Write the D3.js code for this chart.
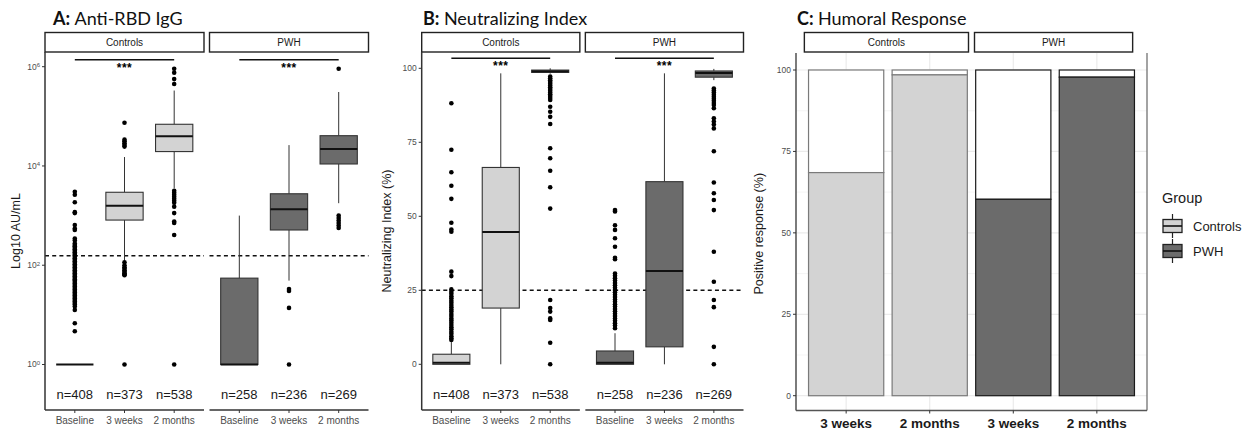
<!DOCTYPE html>
<html>
<head>
<meta charset="utf-8">
<script src="https://cdn.jsdelivr.net/npm/d3@7"></script>
<style>
  html, body { margin: 0; padding: 0; background: #fff; }
  svg { display: block; font-family: "Liberation Sans", Arial, sans-serif; }
</style>
</head>
<body>
<svg id="chart" width="1250" height="432"></svg>
<script>
// ---------------- DATA ----------------
const timepoints = ["Baseline", "3 weeks", "2 months"];
const groups = ["Controls", "PWH"];
const nControls = [408, 373, 538];
const nPWH = [258, 236, 269];

// Anti-RBD IgG, values are log10(AU/mL): [whiskerLow, q1, median, q3, whiskerHigh]
const iggBoxControls = [
  [0, 0, 0, 0, 0],
  [2.09, 2.91, 3.2, 3.47, 4.18],
  [3.55, 4.29, 4.6, 4.84, 5.52]
];
const iggBoxPWH = [
  [0, 0, 0, 1.74, 3.0],
  [1.69, 2.71, 3.13, 3.44, 4.42],
  [3.25, 4.04, 4.34, 4.61, 5.49]
];
const iggOutControls = [
  [3.48, 3.42, 3.27, 3.07, 3.05, 2.81, 2.74, 2.71, 2.54, 2.5, 2.44, 2.41, 2.38, 2.35, 2.32, 2.29,
   2.26, 2.23, 2.2, 2.17, 2.14, 2.11, 2.08, 2.05, 2.02, 1.99, 1.96, 1.93, 1.9, 1.87, 1.84, 1.81,
   1.78, 1.75, 1.72, 1.69, 1.66, 1.63, 1.6, 1.57, 1.54, 1.51, 1.48, 1.45, 1.42, 1.39, 1.36, 1.33,
   1.3, 1.27, 1.24, 1.21, 1.17, 1.1, 0.83, 0.67],
  [4.87, 4.53, 4.5, 4.46, 4.42, 4.39, 2.06, 2.0, 1.96, 1.93, 1.9, 1.87, 1.84, 1.82, 1.8, 0],
  [5.96, 5.88, 5.75, 5.65, 3.5, 3.46, 3.42, 3.38, 3.34, 3.3, 3.26, 3.18, 3.05, 2.88, 2.85, 2.61, 0]
];
const iggOutPWH = [
  [],
  [1.52, 1.48, 1.14, 0],
  [5.96, 3.0, 2.95, 2.9, 2.85, 2.8, 2.75]
];
const iggCutoff = 2.19;       // log10 AU/mL
const iggSigLevel = 6.14;     // log10 position of significance bar
const iggNLabelLevel = -0.61; // log10 position of n= labels
const iggTicks = [0, 2, 4, 6];

// Neutralizing index (%): [whiskerLow, q1, median, q3, whiskerHigh]
const nabBoxControls = [
  [0, 0, 0.5, 3.4, 7.5],
  [0, 19, 44.7, 66.5, 98.3],
  [98.2, 98.6, 99.0, 99.4, 100]
];
const nabBoxPWH = [
  [0, 0, 0.5, 4.5, 10.5],
  [0, 5.9, 31.5, 61.7, 98.3],
  [96, 97, 98.4, 99.1, 99.8]
];
const nabOutControls = [
  [88.2, 72.5, 64.9, 60.3, 55.9, 47.8, 45.5, 44.8, 31.3, 29.8, 25.3, 24.5, 23.8, 23, 22.3, 21.5,
   20.8, 20, 19.3, 18.5, 17.8, 17, 16.3, 15.5, 14.8, 14, 13.3, 12.5, 11.8, 11, 10.3, 9.5, 8.8, 8.2],
  [],
  [97.2, 96.6, 96, 95.4, 94.8, 94.2, 93.6, 93, 92.4, 91.8, 91.2, 90.6, 90, 89.3, 87, 85.3, 83.6,
   81.2, 73, 69.6, 65.4, 59.8, 52.6, 21.7, 19, 17.8, 15.5, 15, 7.3, 0]
];
const nabOutPWH = [
  [52.1, 51.6, 47, 45.4, 42.6, 39.7, 36, 35.5, 30.7, 29.9, 29.1, 28.3, 27.5, 26.7, 25.9, 25.1,
   24.3, 23.5, 22.7, 21.9, 21.1, 20.3, 19.5, 18.7, 17.9, 17.1, 16.3, 15.5, 14.7, 13.9, 13.1, 12.2],
  [],
  [93.2, 92.5, 91.8, 91.1, 90.4, 89.7, 89, 88.3, 87.6, 86.5, 83.1, 82, 81, 79.7, 72, 61.4, 57.8,
   55.5, 52.1, 38, 27.9, 21.7, 19.3, 5.9, 0]
];
const nabCutoff = 25;
const nabSigLevel = 103.4;
const nabNLabelLevel = -10;
const nabTicks = [0, 25, 50, 75, 100];

// Humoral response (% positive)
const respTimepoints = ["3 weeks", "2 months"];
const respControls = [68.5, 98.5];
const respPWH = [60.3, 97.8];
const respTicks = [0, 25, 50, 75, 100];
const respMinorTicks = [12.5, 37.5, 62.5, 87.5];

// ---------------- STYLE ----------------
const fillColor = { Controls: "#d3d3d3", PWH: "#6b6b6b" };
const axisColor = "#333333";
const tickText = "#4d4d4d";
const titleFont = "Lato, 'Open Sans', sans-serif";

const svg = d3.select("#chart");

function panelTitle(x, letter, rest) {
  const t = svg.append("text").attr("x", x).attr("y", 25)
    .attr("font-family", titleFont).attr("font-size", 18).attr("fill", "#111");
  t.append("tspan").attr("font-weight", "bold").text(letter);
  t.append("tspan").text(rest);
}

function strip(x0, x1, label) {
  svg.append("rect").attr("x", x0).attr("y", 32.5).attr("width", x1 - x0).attr("height", 19.5)
    .attr("fill", "#fff").attr("stroke", "#222").attr("stroke-width", 1.4);
  svg.append("text").attr("x", (x0 + x1) / 2).attr("y", 45.5).attr("text-anchor", "middle")
    .attr("font-size", 10).attr("fill", "#1a1a1a").text(label);
}

function yTitle(x, y, label) {
  svg.append("text").attr("transform", `translate(${x},${y}) rotate(-90)`)
    .attr("text-anchor", "middle").attr("font-size", 12.5).attr("fill", "#1a1a1a").text(label);
}

// Box-plot panel (faceted by group)
function boxPanel(cfg) {
  const { left, right, top, bottom, gap, y, toY, boxes, outliers, counts, ticks, tickFmt,
          cutoff, sigLevel, nLevel, labelX, title, letter, titleX, yLabel } = cfg;
  panelTitle(titleX, letter, title);
  const facetW = (right - left - gap) / 2;
  const yTop = top, yBot = bottom;

  groups.forEach((g, gi) => {
    const fx0 = left + gi * (facetW + gap), fx1 = fx0 + facetW;
    const x = d3.scalePoint().domain(timepoints).range([fx0, fx1]).padding(0.6);
    const bw = x.step() * 0.75;
    strip(fx0, fx1, g);

    const layer = svg.append("g");
    // cutoff dashed line
    layer.append("line").attr("x1", fx0).attr("x2", fx1)
      .attr("y1", y(toY(cutoff))).attr("y2", y(toY(cutoff)))
      .attr("stroke", "#111").attr("stroke-width", 1.5).attr("stroke-dasharray", "4,3.2");

    timepoints.forEach((tp, ti) => {
      const [lo, q1, med, q3, hi] = boxes[gi][ti];
      const cx = x(tp);
      // whiskers
      layer.append("line").attr("x1", cx).attr("x2", cx)
        .attr("y1", y(toY(q3))).attr("y2", y(toY(hi))).attr("stroke", axisColor).attr("stroke-width", 1);
      layer.append("line").attr("x1", cx).attr("x2", cx)
        .attr("y1", y(toY(q1))).attr("y2", y(toY(lo))).attr("stroke", axisColor).attr("stroke-width", 1);
      // box
      layer.append("rect").attr("x", cx - bw / 2).attr("width", bw)
        .attr("y", y(toY(q3))).attr("height", Math.max(0, y(toY(q1)) - y(toY(q3))))
        .attr("fill", fillColor[g]).attr("stroke", axisColor).attr("stroke-width", 1.1);
      // median
      layer.append("line").attr("x1", cx - bw / 2).attr("x2", cx + bw / 2)
        .attr("y1", y(toY(med))).attr("y2", y(toY(med))).attr("stroke", "#111").attr("stroke-width", 2);
      // outliers
      layer.selectAll(null).data(outliers[gi][ti]).enter().append("circle")
        .attr("cx", cx).attr("cy", d => y(toY(d))).attr("r", 2.3).attr("fill", "#000");
      // n label
      layer.append("text").attr("x", cx).attr("y", y(toY(nLevel))).attr("dy", "0.36em")
        .attr("text-anchor", "middle").attr("font-size", 13).attr("fill", "#1a1a1a")
        .text("n=" + counts[gi][ti]);
      // x tick + label
      layer.append("line").attr("x1", cx).attr("x2", cx).attr("y1", yBot).attr("y2", yBot + 3)
        .attr("stroke", axisColor).attr("stroke-width", 1);
      layer.append("text").attr("x", cx).attr("y", 424).attr("text-anchor", "middle")
        .attr("font-size", 10).attr("fill", tickText).text(tp);
    });

    // significance bar
    const sy = y(toY(sigLevel));
    layer.append("line").attr("x1", x(timepoints[0])).attr("x2", x(timepoints[2]))
      .attr("y1", sy).attr("y2", sy).attr("stroke", "#111").attr("stroke-width", 1.5);
    layer.append("text").attr("x", x(timepoints[1])).attr("y", sy + 12)
      .attr("text-anchor", "middle").attr("font-size", 12).attr("font-weight", "bold")
      .attr("letter-spacing", 0.5).attr("fill", "#000").text("***");

    // bottom axis line per facet
    svg.append("line").attr("x1", fx0).attr("x2", fx1).attr("y1", yBot).attr("y2", yBot)
      .attr("stroke", axisColor).attr("stroke-width", 1.5);
  });

  // left axis
  svg.append("line").attr("x1", left).attr("x2", left).attr("y1", yTop).attr("y2", yBot)
    .attr("stroke", axisColor).attr("stroke-width", 1.5);
  ticks.forEach(t => {
    const ty = y(toY(t));
    svg.append("line").attr("x1", left - 3).attr("x2", left).attr("y1", ty).attr("y2", ty)
      .attr("stroke", axisColor).attr("stroke-width", 1);
    tickFmt(svg.append("text").attr("x", left - 5).attr("y", ty).attr("dy", "0.35em")
      .attr("text-anchor", "end").attr("font-size", 8.5).attr("fill", tickText), t);
  });
  yTitle(labelX, (yTop + yBot) / 2, yLabel);
}

// ---------- Panel A ----------
const yIgG = d3.scaleLog().domain([1, 1e6]).range([364.5, 66.7]);
boxPanel({
  left: 45, right: 368.5, top: 52, bottom: 410, gap: 5.5,
  y: yIgG, toY: v => Math.pow(10, v),
  boxes: [iggBoxControls, iggBoxPWH], outliers: [iggOutControls, iggOutPWH],
  counts: [nControls, nPWH], ticks: iggTicks,
  tickFmt: (sel, t) => { sel.append("tspan").text("10");
                         sel.append("tspan").attr("dy", "-0.45em").attr("font-size", 6).text(t); },
  cutoff: iggCutoff, sigLevel: iggSigLevel, nLevel: iggNLabelLevel,
  labelX: 20, letter: "A:  ", title: "Anti-RBD IgG", titleX: 53, yLabel: "Log10  AU/mL"
});

// ---------- Panel B ----------
const yNab = d3.scaleLinear().domain([0, 100]).range([364.3, 68.3]);
boxPanel({
  left: 421.7, right: 743.5, top: 52, bottom: 410, gap: 5.5,
  y: yNab, toY: v => v,
  boxes: [nabBoxControls, nabBoxPWH], outliers: [nabOutControls, nabOutPWH],
  counts: [nControls, nPWH], ticks: nabTicks,
  tickFmt: (sel, t) => sel.text(t),
  cutoff: nabCutoff, sigLevel: nabSigLevel, nLevel: nabNLabelLevel,
  labelX: 391, letter: "B: ", title: "Neutralizing Index", titleX: 423, yLabel: "Neutralizing Index (%)"
});

// ---------- Panel C ----------
panelTitle(797, "C:  ", "Humoral Response");
const cLeft = 796, cRight = 1147, cTop = 53, cBot = 410.5;
const cats = [];
groups.forEach(g => respTimepoints.forEach(t => cats.push(g + "|" + t)));
const xC = d3.scalePoint().domain(cats).range([cLeft, cRight]).padding(0.6);
const yC = d3.scaleLinear().domain([0, 100]).range([395.7, 70]);
const stepC = xC.step();

// grid
const grid = svg.append("g");
respMinorTicks.forEach(t => grid.append("line").attr("x1", cLeft).attr("x2", cRight)
  .attr("y1", yC(t)).attr("y2", yC(t)).attr("stroke", "#f3f3f3").attr("stroke-width", 0.8));
respTicks.forEach(t => grid.append("line").attr("x1", cLeft).attr("x2", cRight)
  .attr("y1", yC(t)).attr("y2", yC(t)).attr("stroke", "#ebebeb").attr("stroke-width", 1.2));
cats.forEach(c => grid.append("line").attr("x1", xC(c)).attr("x2", xC(c))
  .attr("y1", cTop).attr("y2", cBot).attr("stroke", "#ebebeb").attr("stroke-width", 1.2));

// strips
const mid = (xC(cats[1]) + xC(cats[2])) / 2;
strip(xC(cats[0]) - stepC / 2, mid - 3, "Controls");
strip(mid + 3, xC(cats[3]) + stepC / 2 - 6, "PWH");

// bars
const bwC = stepC * 0.9;
const respData = { Controls: respControls, PWH: respPWH };
const barStroke = { Controls: "#7a7a7a", PWH: "#1a1a1a" };
groups.forEach(g => respTimepoints.forEach((t, ti) => {
  const cx = xC(g + "|" + t), v = respData[g][ti];
  svg.append("rect").attr("x", cx - bwC / 2).attr("width", bwC)
    .attr("y", yC(100)).attr("height", yC(v) - yC(100))
    .attr("fill", "#fff").attr("stroke", barStroke[g]).attr("stroke-width", 1.2);
  svg.append("rect").attr("x", cx - bwC / 2).attr("width", bwC)
    .attr("y", yC(v)).attr("height", yC(0) - yC(v))
    .attr("fill", fillColor[g]).attr("stroke", barStroke[g]).attr("stroke-width", 1.2);
}));

// panel border (left, right, bottom)
svg.append("line").attr("x1", cLeft).attr("x2", cLeft).attr("y1", cTop).attr("y2", cBot)
  .attr("stroke", "#444").attr("stroke-width", 1.4);
svg.append("line").attr("x1", cRight).attr("x2", cRight).attr("y1", cTop).attr("y2", cBot)
  .attr("stroke", "#666").attr("stroke-width", 1.2);
svg.append("line").attr("x1", cLeft).attr("x2", cRight).attr("y1", cBot).attr("y2", cBot)
  .attr("stroke", "#555").attr("stroke-width", 1.4);

// axes C
respTicks.forEach(t => {
  svg.append("line").attr("x1", cLeft - 3).attr("x2", cLeft).attr("y1", yC(t)).attr("y2", yC(t))
    .attr("stroke", axisColor).attr("stroke-width", 1);
  svg.append("text").attr("x", cLeft - 5).attr("y", yC(t)).attr("dy", "0.35em")
    .attr("text-anchor", "end").attr("font-size", 8.5).attr("fill", tickText).text(t);
});
cats.forEach(c => {
  svg.append("line").attr("x1", xC(c)).attr("x2", xC(c)).attr("y1", cBot).attr("y2", cBot + 3)
    .attr("stroke", axisColor).attr("stroke-width", 1);
  svg.append("text").attr("x", xC(c)).attr("y", 428).attr("text-anchor", "middle")
    .attr("font-size", 13.5).attr("font-weight", "bold").attr("fill", "#1a1a1a").text(c.split("|")[1]);
});
yTitle(763, (cTop + cBot) / 2 + 2, "Positive response (%)");

// legend
svg.append("text").attr("x", 1162).attr("y", 203).attr("font-size", 14.5).attr("fill", "#1a1a1a").text("Group");
groups.forEach((g, i) => {
  const cy = 226 + i * 25;
  const kx = 1172.5;
  const lg = svg.append("g");
  lg.append("line").attr("x1", kx).attr("x2", kx).attr("y1", cy - 12).attr("y2", cy + 12)
    .attr("stroke", "#222").attr("stroke-width", 1.2);
  lg.append("rect").attr("x", kx - 9.5).attr("y", cy - 6.5).attr("width", 19).attr("height", 13)
    .attr("fill", fillColor[g]).attr("stroke", "#222").attr("stroke-width", 1.3);
  lg.append("line").attr("x1", kx - 9.5).attr("x2", kx + 9.5).attr("y1", cy).attr("y2", cy)
    .attr("stroke", "#111").attr("stroke-width", 1.6);
  lg.append("text").attr("x", 1193).attr("y", cy).attr("dy", "0.36em")
    .attr("font-size", 13).attr("fill", "#1a1a1a").text(g);
});
</script>
</body>
</html>
